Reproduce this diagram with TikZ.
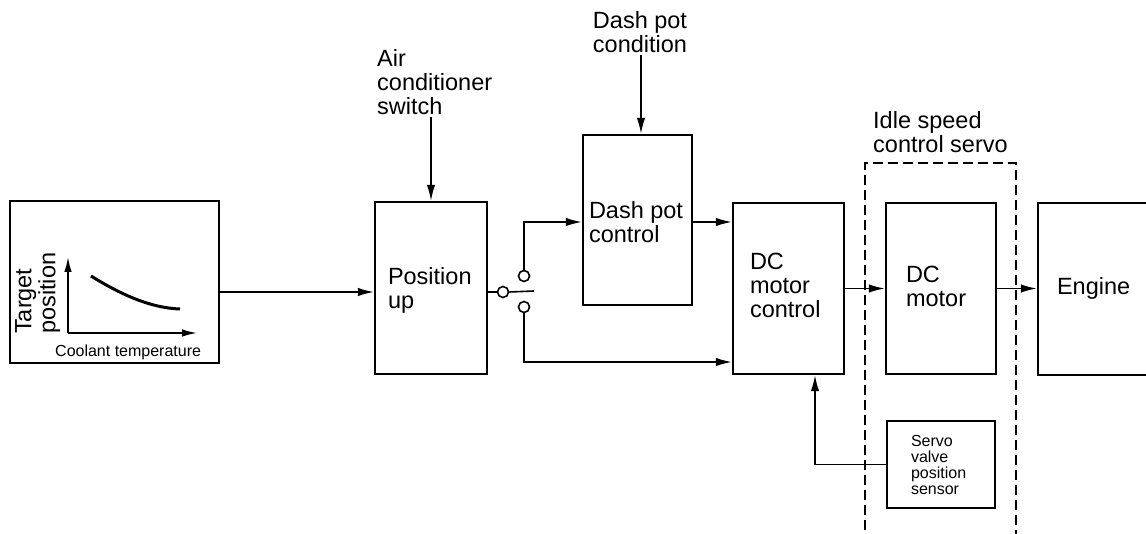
\documentclass[tikz,border=0pt]{standalone}
\usepackage{fontspec}
\setmainfont{Liberation Sans}
\usetikzlibrary{arrows.meta}
\newcommand\mainsz{\fontsize{23.5}{24}\selectfont}
\newcommand\smallsz{\fontsize{16}{16}\selectfont}
\begin{document}
\begin{tikzpicture}[x=1pt,y=-1pt,
  box/.style={draw, line width=2.4pt, anchor=center, inner sep=0pt},
  boxtext/.style={font=\mainsz, align=left, anchor=west, inner sep=0pt},
  wire/.style={line width=1.6pt},
  conn/.style={line width=1.6pt, -{Latex[length=16pt,width=8.5pt]}},
  lbl/.style={font=\mainsz, align=left, inner sep=2pt},
  contact/.style={circle, draw, line width=1.6pt, minimum size=11pt, inner sep=0pt},
  servobox/.style={line width=2pt, dash pattern=on 10pt off 5pt}
]
\clip (0,0) rectangle (1146,534);
\fill[white] (0,0) rectangle (1146,534);

% boxes
\node[box, minimum width=209pt, minimum height=162pt] (lb) at (114.5,282) {};
\node[box, minimum width=112pt, minimum height=172pt] (pu) at (431,288) {};
\node[box, minimum width=109pt, minimum height=170pt] (dp) at (637.5,220) {};
\node[box, minimum width=111pt, minimum height=171pt] (dmc) at (788.5,288.5) {};
\node[box, minimum width=110pt, minimum height=171pt] (dm) at (941,288.5) {};
\node[box, minimum width=140pt, minimum height=172pt] (eng) at (1108,289) {};
\node[box, minimum width=108pt, minimum height=87pt] (sen) at (941,464.5) {};

% box texts
\node[boxtext] (put) at ([xshift=14pt,yshift=-2pt]pu.west) {Position\\up};
\node[boxtext] (dpt) at ([xshift=7pt,yshift=-2pt]dp.west) {Dash pot\\control};
\node[boxtext] (dmct) at ([xshift=18pt,yshift=3pt]dmc.west) {DC\\motor\\control};
\node[boxtext] (dmt) at ([xshift=21pt,yshift=2pt]dm.west) {DC\\motor};
\node[boxtext] (engt) at ([xshift=20pt,yshift=1pt]eng.west) {Engine};
\node[boxtext, font=\smallsz] (sent) at ([xshift=25pt]sen.west) {Servo\\valve\\position\\sensor};

% graph inside left box
\draw[line width=1.6pt, -{Latex[length=15pt,width=7.5pt]}] (68,333) -- (68,257);
\draw[line width=1.6pt, -{Latex[length=15pt,width=7.5pt]}] (68,333) -- (197,333);
\draw[line width=3pt] (91,276) .. controls (120,294) and (150,308) .. (180,309);
\node[rotate=90, anchor=north west, inner sep=0pt, align=left, font=\mainsz] (tp) at (15,334) {Target\\position};
\node[font=\smallsz, anchor=base west, inner sep=0pt] (ct) at (55,357) {Coolant temperature};

% labels (base = last line)
\node[lbl, anchor=base west] (ac) at (375,115) {Air\\conditioner\\switch};
\node[lbl, align=center, anchor=base] (dpc) at (640,53) {Dash pot\\condition};
\node[lbl, anchor=base west] (isc) at (871,153) {Idle speed\\control servo};

% input arrows
\draw[conn] (ac.south -| pu.north) -- (pu.north);
\draw[conn] ([xshift=3.5pt]dp.north |- dpc.south) -- ([xshift=3.5pt]dp.north);

% main flow
\draw[conn] ([yshift=-4pt]pu.west -| lb.east) -- ([yshift=-4pt]pu.west);

% switch
\node[contact] (sp) at (503,292) {};
\node[contact] (sa) at (524,276) {};
\node[contact] (sb) at (524,307) {};
\coordinate (blade) at (534,291);
\draw[wire] (pu.east |- sp) -- (sp.west);
\draw[wire] (sp.east) -- (blade);
\draw[conn] (sa.north) |- ([yshift=-2pt]dp.west);
\draw[conn] (sb.south) |- ([yshift=-73.5pt]dmc.west);

\draw[conn] ([yshift=-2pt]dp.east) -- ([yshift=-2pt]dp.east -| dmc.west);
\draw[conn] (dmc.east) -- (dm.west);
\draw[conn] (dm.east) -- (dm.east -| eng.west);
\draw[conn] (sen.west) -| ([xshift=26.5pt]dmc.south);

% dashed servo boundary
\draw[servobox] (865,545) -- (865,163) -- (1016,163) -- (1016,545);
\end{tikzpicture}
\end{document}
